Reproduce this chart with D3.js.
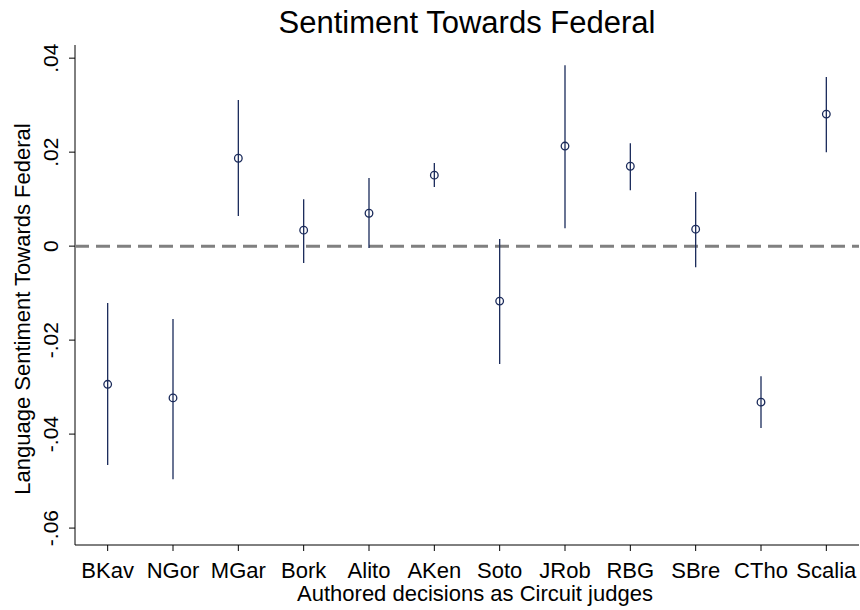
<!DOCTYPE html><html><head><meta charset="utf-8">
<script src="https://cdn.jsdelivr.net/npm/d3@7"></script>
<style>body{margin:0;background:#fff}text{font-family:"Liberation Sans",Arial,sans-serif}</style></head><body>
<svg id="c" width="860" height="610"></svg>
<script>
const judges=["BKav","NGor","MGar","Bork","Alito","AKen","Soto","JRob","RBG","SBre","CTho","Scalia"];
const est=[-0.0294,-0.0323,0.0187,0.0034,0.0070,0.0151,-0.0117,0.0213,0.0170,0.0036,-0.0332,0.0281];
const hi=[-0.0121,-0.0155,0.0311,0.0100,0.0145,0.0177,0.0015,0.0385,0.0219,0.0115,-0.0277,0.0360];
const lo=[-0.0466,-0.0496,0.0064,-0.0036,-0.0004,0.0126,-0.0251,0.0038,0.0119,-0.0045,-0.0387,0.0200];
const yTicks=[0.04,0.02,0,-0.02,-0.04,-0.06];
const yLabels=[".04",".02","0","-.02","-.04","-.06"];
const svg=d3.select("#c");
const L=75,R=859,T=45,B=545;
const x=d3.scaleLinear().domain([0.5,12.5]).range([L,R]);
const y=d3.scaleLinear().domain([-0.0636,0.0428]).range([B,T]);
const col="#1a2a5a";
svg.append("line").attr("x1",L).attr("x2",L).attr("y1",T).attr("y2",B).attr("stroke","#000");
svg.append("line").attr("x1",L).attr("x2",R).attr("y1",B).attr("y2",B).attr("stroke","#000");
yTicks.forEach((t,i)=>{
 svg.append("line").attr("x1",L-6).attr("x2",L).attr("y1",y(t)).attr("y2",y(t)).attr("stroke","#000");
 svg.append("text").attr("transform",`translate(${L-17},${y(t)}) rotate(-90)`).attr("text-anchor","middle").attr("font-size",21).text(yLabels[i]);
});
judges.forEach((j,i)=>{
 svg.append("line").attr("x1",x(i+1)).attr("x2",x(i+1)).attr("y1",B).attr("y2",B+6).attr("stroke","#000");
 svg.append("text").attr("x",x(i+1)).attr("y",B+33).attr("text-anchor","middle").attr("font-size",22).text(j);
});
svg.append("line").attr("x1",L).attr("x2",R).attr("y1",y(0)).attr("y2",y(0)).attr("stroke","#808080").attr("stroke-width",3).attr("stroke-dasharray","14,7");
judges.forEach((j,i)=>{
 svg.append("line").attr("x1",x(i+1)).attr("x2",x(i+1)).attr("y1",y(hi[i])).attr("y2",y(lo[i])).attr("stroke",col).attr("stroke-width",1.3);
 svg.append("circle").attr("cx",x(i+1)).attr("cy",y(est[i])).attr("r",3.8).attr("fill","none").attr("stroke",col).attr("stroke-width",1.3);
});
svg.append("text").attr("x",467).attr("y",33).attr("text-anchor","middle").attr("font-size",31).text("Sentiment Towards Federal");
svg.append("text").attr("x",475).attr("y",601).attr("text-anchor","middle").attr("font-size",22).text("Authored decisions as Circuit judges");
svg.append("text").attr("transform",`translate(30,${(T+B)/2+14}) rotate(-90)`).attr("text-anchor","middle").attr("font-size",22).text("Language Sentiment Towards Federal");
</script></body></html>
